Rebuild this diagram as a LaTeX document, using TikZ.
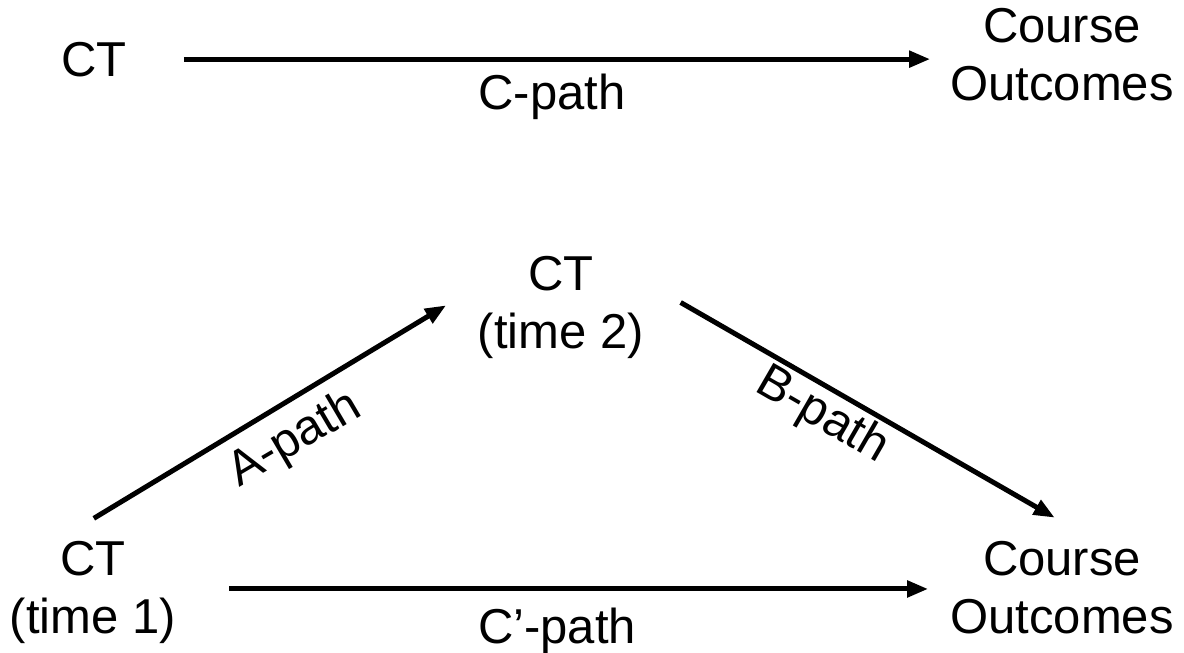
\documentclass[tikz,border=0pt]{standalone}
\usepackage{fontspec}
\setmainfont{Liberation Sans}
\usetikzlibrary{arrows.meta}

\tikzset{
	lbl/.style={font=\fontsize{49}{58}\selectfont, align=center, inner sep=0pt},
	arr/.style={line width=5pt, -{Triangle[length=21pt,width=16pt]}}
}

\begin{document}
\begin{tikzpicture}[x=1pt, y=-1pt]
		\useasboundingbox (0,0) rectangle (1184,653);
		
		% top: direct effect
		\node[lbl, anchor=base] (ct) at (94,76) {CT};
		\node[lbl, anchor=base] (co) at (1062,100) {Course\\Outcomes};
		\node[lbl, anchor=base] (cpath) at (552,109) {C-path};
		\draw[arr, shorten <=57pt, shorten >=20pt] (ct.east) -- (ct.east -| co.west);  % C
		
		% bottom: mediation
		\node[lbl, anchor=base] (cta) at (93,633) {CT\\(time 1)};
		\node[lbl, anchor=base] (ctb) at (561,348) {CT\\(time 2)};
		\node[lbl, anchor=base] (cob) at (1062,633) {Course\\Outcomes};
		
		\draw[arr, shorten <=43pt, shorten >=37pt] (cta.125) -- (ctb.166);  % A
		\node[lbl, rotate=30.5] (apath) at (295,440) {A-path};
		
		\draw[arr, shorten <=42pt, shorten >=46pt] (ctb.17) -- (cob.55);  % B
		\node[lbl, rotate=-30] (bpath) at (822,416) {B-path};
		
		\draw[arr, shorten <=53pt, shorten >=22pt] ([yshift=3pt]cta.east) -- ([yshift=3pt]cta.east -| cob.west);  % C'
		\node[lbl, anchor=base] (cppath) at (557,643) {C’-path};
		
	\end{tikzpicture}
\end{document}
